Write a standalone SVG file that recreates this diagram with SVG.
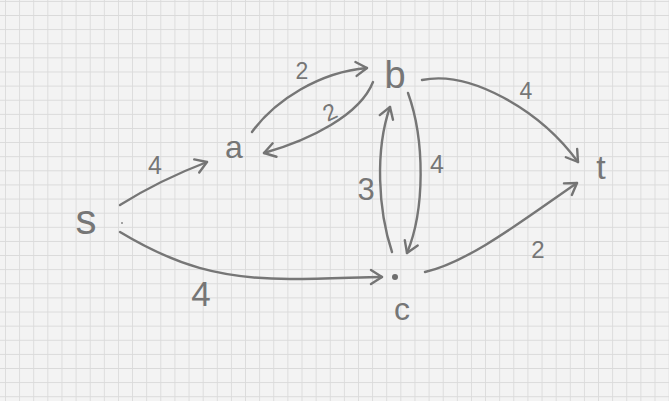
<svg xmlns="http://www.w3.org/2000/svg" width="669" height="401" viewBox="0 0 669 401">
<defs>
<pattern id="grid" x="5" y="0.9" width="14.12" height="14.12" patternUnits="userSpaceOnUse">
<path d="M0,0 H14.12 M0,0 V14.12" fill="none" stroke="#dadada" stroke-width="1.7"/>
</pattern>
<marker id="arr" viewBox="-14 -9 16 18" refX="0" refY="0" markerWidth="16" markerHeight="18" markerUnits="userSpaceOnUse" orient="auto">
<path d="M-11,-7 L0,0 L-11,7" fill="none" stroke="#747474" stroke-width="2.4" stroke-linecap="round" stroke-linejoin="round"/>
</marker>
<style>
.e{fill:none;stroke:#767676;stroke-width:2.4;stroke-linecap:round;marker-end:url(#arr)}
.n{font-family:"Liberation Sans",Arial,sans-serif;fill:#767676;text-anchor:middle}
.l{font-family:"Liberation Sans",Arial,sans-serif;fill:#767676;text-anchor:middle}
</style>
</defs>
<rect width="669" height="401" fill="#f3f3f3"/>
<rect width="669" height="401" fill="url(#grid)"/>
<g id="connectors">
<path class="e" d="M120,205 Q160,180 207,162"/>
<path class="e" d="M252,132 C275,100 320,72 367,68"/>
<path class="e" d="M373,82 C360,115 310,140 264,153"/>
<path class="e" d="M422,80 C470,70 540,110 578,162"/>
<path class="e" d="M425,272 C470,262 530,215 577,183"/>
<path class="e" d="M392,252 C378,210 375,150 390,107"/>
<path class="e" d="M408,93 C425,140 425,210 407,253"/>
<path class="e" d="M120,232 C175,265 220,279 290,279 C330,279 360,277 382,277"/>
<text class="l" x="155" y="174" font-size="25">4</text>
<text class="l" x="302" y="79" font-size="23">2</text>
<text class="l" x="330" y="120" font-size="23" transform="rotate(-25 330 112)">2</text>
<text class="l" x="526" y="99" font-size="23">4</text>
<text class="l" x="538" y="258" font-size="24">2</text>
<text class="l" x="366" y="200" font-size="31">3</text>
<text class="l" x="437" y="173" font-size="25">4</text>
<text class="l" x="201" y="306" font-size="35">4</text>
</g>
<g id="node-s">
<text class="n" x="86" y="234" font-size="42">s</text>
<circle cx="122" cy="223" r="1" fill="#888"/>
</g>
<g id="node-a">
<text class="n" x="234" y="158" font-size="32">a</text>
</g>
<g id="node-b">
<text class="n" x="395" y="88" font-size="38">b</text>
</g>
<g id="node-c">
<circle cx="395" cy="277" r="3" fill="#6f6f6f"/>
<text class="n" x="402" y="320" font-size="32">c</text>
</g>
<g id="node-t">
<text class="n" x="601" y="179" font-size="34">t</text>
</g>
</svg>
